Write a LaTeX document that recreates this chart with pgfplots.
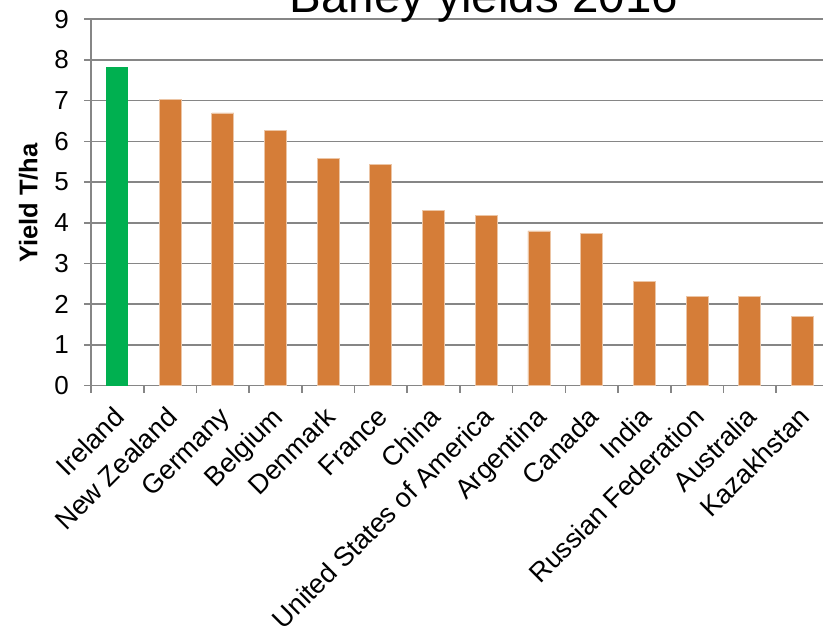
\documentclass[border=0pt]{standalone}
\usepackage{fontspec}
\setmainfont{Liberation Sans}
\usepackage{pgfplots}
\pgfplotsset{compat=1.18}
\definecolor{barorange}{HTML}{D57D38}
\definecolor{bargreen}{HTML}{00B050}
\definecolor{gridgray}{HTML}{868686}
\begin{document}
\begin{tikzpicture}[x=1pt,y=1pt]
\useasboundingbox (0,0) rectangle (823,627);
\clip (0,0) rectangle (823,627);
\begin{axis}[
  at={(91pt,241.4pt)}, anchor=south west,
  scale only axis, width=737.8pt, height=366.3pt,
  xmin=-0.5, xmax=13.5, ymin=0, ymax=9,
  axis lines=left, axis line style={-, gridgray, line width=1.6pt},
  ytick={0,...,9},
  ymajorgrids, grid style={gridgray, line width=1.6pt},
  xtick={0,...,13},
  xticklabels={Ireland,New Zealand,Germany,Belgium,Denmark,France,China,United States of America,Argentina,Canada,India,Russian Federation,Australia,Kazakhstan},
  minor xtick={-0.5,0.5,...,13.5},
  tick align=outside,
  major x tick style={draw=none},
  major tick length=7pt, minor tick length=7pt,
  tick style={gridgray, line width=1.6pt},
  /pgf/number format/assume math mode=true,
  yticklabel style={font=\fontsize{26}{30}\selectfont, inner sep=0pt, xshift=-15pt},
  xticklabel style={font=\fontsize{27}{31}\selectfont, xshift=-5pt, yshift=-12.5pt, rotate=45, anchor=north east, inner sep=0pt},
  ybar, bar width=22pt,
  clip=false,
]
\addplot[bar shift=0pt, fill=bargreen, draw=none] coordinates {(0,7.84)};
\addplot[bar shift=0pt, fill=barorange, draw=barorange!45!white, line width=0.8pt] coordinates {
(1,7.03) (2,6.70) (3,6.26) (4,5.59) (5,5.43) (6,4.31) (7,4.19) (8,3.80) (9,3.73) (10,2.55) (11,2.20) (12,2.18) (13,1.69)};
\end{axis}
\node[anchor=base, font=\fontsize{47.5}{56}\selectfont] at (484,614) {Barley yields 2016};
\node[rotate=90, font=\bfseries\fontsize{25.5}{30}\selectfont] at (28.5,424) {Yield T/ha};
\end{tikzpicture}
\end{document}
